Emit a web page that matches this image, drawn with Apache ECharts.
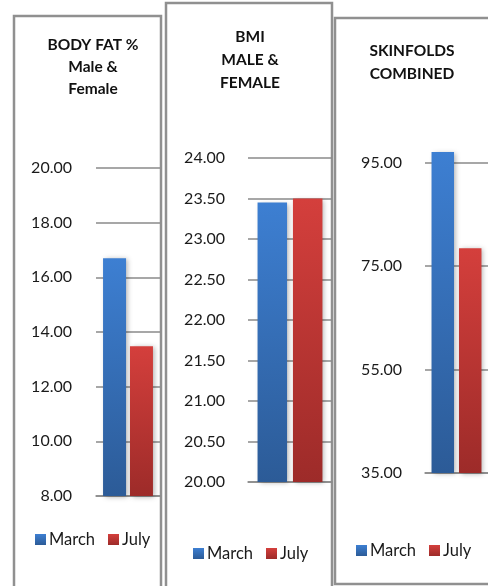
<!DOCTYPE html>
<html>
<head>
<meta charset="utf-8">
<script src="https://cdn.jsdelivr.net/npm/echarts@6/dist/echarts.min.js"></script>
<style>
  html, body { margin: 0; padding: 0; background: #fff; }
  #chart { width: 488px; height: 586px; }
</style>
</head>
<body>
<div id="chart"></div>
<script>
// data
const seriesNames = ['March', 'July']
const panelTitles = ['BODY FAT %\nMale &\nFemale', 'BMI\nMALE &\nFEMALE', 'SKINFOLDS\nCOMBINED']
const marchValues = [16.7, 23.45, 97.1]
const julyValues = [13.48, 23.5, 78.5]
const bodyFatTicks = [8, 10, 12, 14, 16, 18, 20]
const bmiTicks = [20, 20.5, 21, 21.5, 22, 22.5, 23, 23.5, 24]
const skinfoldTicks = [35, 55, 75, 95]

const FONT = 'Lato, "Open Sans", sans-serif'
const GRID_COLOR = '#8a8a8a'

const blue = new echarts.graphic.LinearGradient(0, 0, 0, 1, [
  { offset: 0, color: '#3d7fd2' },
  { offset: 1, color: '#2c5b97' }
])
const red = new echarts.graphic.LinearGradient(0, 0, 0, 1, [
  { offset: 0, color: '#d43f3c' },
  { offset: 1, color: '#9d2b29' }
])

// panel layout
const panels = [
  { grid: { left: 96, top: 168, width: 64, height: 328 }, min: 8, max: 20, interval: 2, ticks: bodyFatTicks,
    barWidth: 23, barGap: '17%', title: { left: 93, top: 34, lineHeight: 22 }, legend: { left: 35, top: 531 }, margin: 24 },
  { grid: { left: 248, top: 158, width: 84, height: 324 }, min: 20, max: 24, interval: 0.5, ticks: bmiTicks,
    barWidth: 29.5, barGap: '20%', title: { left: 250, top: 25, lineHeight: 23 }, legend: { left: 193, top: 545 }, margin: 23 },
  { grid: { left: 425, top: 137, width: 66, height: 336 }, min: 35, max: 100, interval: null, ticks: skinfoldTicks,
    barWidth: 22.5, barGap: '22%', title: { left: 412, top: 39, lineHeight: 23 }, legend: { left: 356, top: 542 }, margin: 23 }
]

const chart = echarts.init(document.getElementById('chart'), null, { renderer: 'canvas' })

const option = {
  animation: false,
  backgroundColor: '#fff',
  graphic: [
    { type: 'rect', z: -10, shape: { x: 14, y: 16, width: 147, height: 620 }, style: { fill: '#fff', stroke: '#909090', lineWidth: 2.5 } },
    { type: 'rect', z: -10, shape: { x: 166, y: 3, width: 166, height: 620 }, style: { fill: '#fff', stroke: '#909090', lineWidth: 2.5 } },
    { type: 'rect', z: -10, shape: { x: 335, y: 18, width: 200, height: 566 }, style: { fill: '#fff', stroke: '#909090', lineWidth: 2.5 } }
  ],
  title: panels.map((p, i) => ({
    text: panelTitles[i],
    left: p.title.left,
    top: p.title.top,
    padding: 0,
    textAlign: 'center',
    textStyle: { fontFamily: FONT, fontSize: 15.5, fontWeight: 'bold', color: '#111', lineHeight: p.title.lineHeight }
  })),
  legend: panels.map(p => ({
    data: seriesNames,
    left: p.legend.left,
    top: p.legend.top,
    padding: 0,
    itemWidth: 11,
    itemHeight: 11,
    itemGap: 13,
    icon: 'rect',
    selectedMode: false,
    textStyle: { fontFamily: FONT, fontSize: 16.5, color: '#1a1a1a', padding: [0, 0, 0, -2] }
  })),
  grid: panels.map(p => ({ ...p.grid, containLabel: false })),
  xAxis: panels.map((p, i) => ({
    type: 'category',
    gridIndex: i,
    data: [''],
    axisLine: { show: true, lineStyle: { color: GRID_COLOR, width: 1.5 } },
    axisTick: { show: false },
    axisLabel: { show: false }
  })),
  yAxis: panels.map((p, i) => {
    const axis = {
      type: 'value',
      gridIndex: i,
      min: p.min,
      max: p.max,
      axisLine: { show: false },
      axisTick: { show: false },
      axisLabel: { fontFamily: FONT, fontSize: 16, color: '#1a1a1a', margin: p.margin, formatter: v => v.toFixed(2) },
      splitLine: { lineStyle: { color: GRID_COLOR, width: 1.5 } }
    }
    if (p.interval) {
      axis.interval = p.interval
    } else {
      axis.axisLabel.customValues = p.ticks
      axis.axisTick.customValues = p.ticks
    }
    return axis
  }),
  series: panels.flatMap((p, i) => [
    {
      name: seriesNames[0],
      type: 'bar',
      xAxisIndex: i,
      yAxisIndex: i,
      barWidth: p.barWidth,
      barGap: p.barGap,
      data: [marchValues[i]],
      itemStyle: { color: blue, shadowBlur: 5, shadowOffsetX: 2, shadowOffsetY: 1, shadowColor: 'rgba(0,0,0,0.3)' }
    },
    {
      name: seriesNames[1],
      type: 'bar',
      xAxisIndex: i,
      yAxisIndex: i,
      barWidth: p.barWidth,
      barGap: p.barGap,
      data: [julyValues[i]],
      itemStyle: { color: red, shadowBlur: 5, shadowOffsetX: 2, shadowOffsetY: 1, shadowColor: 'rgba(0,0,0,0.3)' }
    }
  ])
}

chart.setOption(option)
</script>
</body>
</html>
